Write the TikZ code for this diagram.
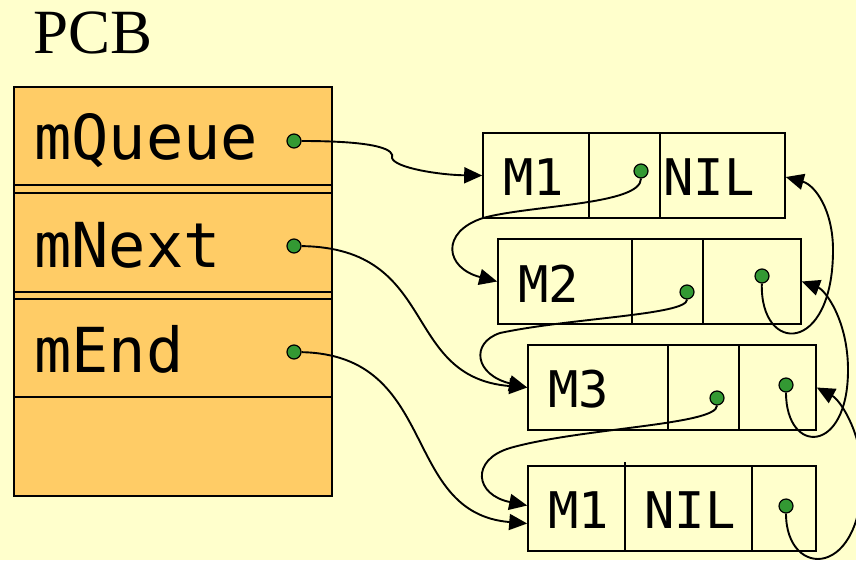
\documentclass[tikz,border=0pt]{standalone}
\usepackage{fontspec}
\setmainfont{Liberation Serif}
\setmonofont{DejaVu Sans Mono}
\usetikzlibrary{arrows.meta}
\definecolor{paper}{HTML}{FFFFCC}
\definecolor{pcbfill}{HTML}{FFCC66}
\definecolor{ptrgreen}{HTML}{339933}

\begin{document}
\begin{tikzpicture}[x=1pt, y=-1pt,
  field/.style={draw, line width=1.6pt, minimum width=318pt, inner sep=0pt},
  cell/.style={draw, line width=1.6pt, minimum height=85pt, inner sep=0pt},
  big/.style={font=\ttfamily\fontsize{62}{62}\selectfont, anchor=base west, inner sep=0pt},
  small/.style={font=\ttfamily\fontsize{50.5}{50}\selectfont, anchor=base west, inner sep=0pt},
  ptr/.style={circle, draw, fill=ptrgreen, line width=1.2pt, minimum size=14pt, inner sep=0pt},
  link/.style={-{Triangle[length=18pt,width=16pt]}, line width=1.9pt}]
\useasboundingbox (0,0) rectangle (856,560);
\fill[paper] (0,0) rectangle (856,560);
\clip (0,0) rectangle (856,560);
% PCB
\node[font=\fontsize{63}{63}\selectfont, anchor=base west, inner sep=0pt] (title) at (33,53) {PCB};
\filldraw[fill=pcbfill, line width=1.6pt] (14,87) rectangle (332,496);
\node[field, minimum height=98pt] (rowQueue) at (173,136) {};
\node[field, minimum height=99pt] (rowNext) at (173,242.5) {};
\node[field, minimum height=98pt] (rowEnd) at (173,348) {};
\node[field, minimum height=99pt] (rowFree) at (173,446.5) {};
\node[big] (tQueue) at (34,159) {mQueue};
\node[big] (tNext) at (34,267) {mNext};
\node[big] (tEnd) at (34,372) {mEnd};
% message boxes
\node[cell, minimum width=302pt] (boxA) at (634,175.5) {};
\node[cell, minimum width=303pt] (boxB) at (649.5,281.5) {};
\node[cell, minimum width=288pt] (boxC) at (672,387.5) {};
\node[cell, minimum width=288pt] (boxD) at (672,508.5) {};
\foreach \x/\t/\b in {589/133/218, 660/133/218, 632/239/324, 703/239/324,
                      668/345/430, 739/345/430, 625/462/551, 752/466/551}
  \draw[line width=1.6pt] (\x,\t) -- (\x,\b);
\node[small] (mA) at (503,195) {M1};
\node[small] (nilA) at (663,195) {NIL};
\node[small] (mB) at (518,302) {M2};
\node[small] (mC) at (548,407) {M3};
\node[small] (mD) at (548,528) {M1};
\node[small] (nilD) at (644,528) {NIL};
% pointers
\node[ptr] (dQueue) at (294,141) {};
\node[ptr] (dNext) at (294,246) {};
\node[ptr] (dEnd) at (294,352) {};
\node[ptr] (aNext) at (641,171) {};
\node[ptr] (bNext) at (687,292) {};
\node[ptr] (bPrev) at (762,276) {};
\node[ptr] (cNext) at (717,398) {};
\node[ptr] (cPrev) at (786,385) {};
\node[ptr] (dPrev) at (786,506) {};
% links to the right
\draw[link] (dQueue) .. controls (380,141) and (395,150) .. (392,158)
  .. controls (395,168) and (440,175) .. (boxA.west);
\draw[link] (dNext) .. controls (440,248) and (400,377) .. (boxC.west);
\draw[link] (dEnd) .. controls (440,355) and (400,513) .. ([yshift=-15pt]boxD.west);
% next pointers, looping back left
\draw[link] (aNext) .. controls (641,205) and (530,205) .. (483,218)
  .. controls (440,232) and (445,268) .. (boxB.west);
\draw[link] (bNext) .. controls (687,315) and (570,318) .. (500,333)
  .. controls (470,343) and (475,375) .. (boxC.west);
\draw[link] (cNext) .. controls (717,425) and (580,428) .. (510,448)
  .. controls (470,460) and (475,495) .. ([yshift=3pt]boxD.west);
% previous pointers, looping up on the right
\draw[link] (bPrev) .. controls (760,355) and (833,355) .. (833,250)
  .. controls (833,210) and (815,185) .. ([yshift=-1.5pt]boxA.east);
\draw[link] (cPrev) .. controls (786,455) and (848,455) .. (848,370)
  .. controls (848,320) and (825,290) .. (boxB.east);
\draw[link] (dPrev) .. controls (786,580) and (865,580) .. (862,470)
  .. controls (860,430) and (840,400) .. (boxC.east);
\end{tikzpicture}
\end{document}
